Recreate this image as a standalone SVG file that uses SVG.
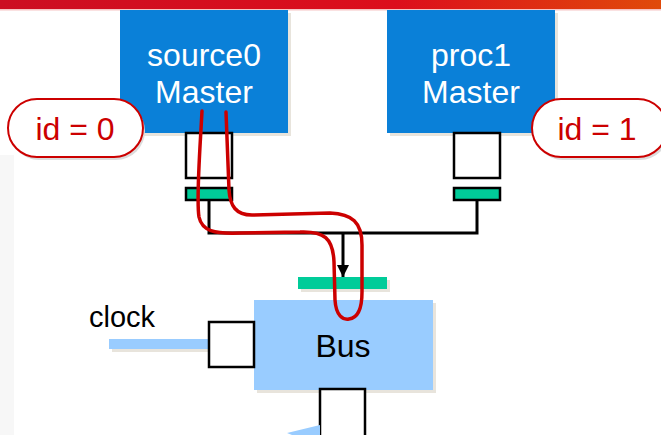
<svg xmlns="http://www.w3.org/2000/svg" width="661" height="435" viewBox="0 0 661 435">
<defs>
<linearGradient id="topbar" x1="0" y1="0" x2="1" y2="0">
<stop offset="0" stop-color="#cc0e22"/>
<stop offset="0.6" stop-color="#dc0e1c"/>
<stop offset="1" stop-color="#e04a0a"/>
</linearGradient>
<marker id="arrow" markerWidth="12" markerHeight="12" refX="10" refY="5" orient="auto" markerUnits="userSpaceOnUse" viewBox="0 0 10 10">
<path d="M0,0 L10,5 L0,10 Z" fill="#000"/>
</marker>
<style>
.master{fill:#0a80d8}
.mtext{font-family:"Liberation Sans",Arial,sans-serif;font-size:32px;fill:#fff;text-anchor:middle}
.shadow{fill:#e8e4dc}
.port{fill:#fff;stroke:#000;stroke-width:2.5}
.green{fill:#00cc99;stroke:#000;stroke-width:2.5}
.pill{fill:#fff;stroke:#cc0000;stroke-width:2}
.pshadow{fill:#dcdcdc}
.ptext{font-family:"Liberation Sans",Arial,sans-serif;font-size:32px;fill:#cc0000;text-anchor:middle}
.wire{fill:none;stroke:#000;stroke-width:3}
.label{font-family:"Liberation Sans",Arial,sans-serif;font-size:29px;fill:#000}
</style>
</defs>
<rect x="0" y="0" width="661" height="435" fill="#fff"/>
<rect x="0" y="155" width="14" height="280" fill="#f7f7f7"/>
<rect x="0" y="0" width="661" height="9" fill="url(#topbar)"/>
<rect x="0" y="9" width="661" height="1.5" fill="#f6c4c4"/>

<g id="source0">
<rect class="shadow" x="123" y="13" width="168" height="123"/>
<rect class="master" x="120" y="10" width="168" height="123"/>
<text class="mtext" x="204" y="66">source0</text>
<text class="mtext" x="204" y="103">Master</text>
<rect class="port" x="186" y="133" width="46" height="45"/>
<rect class="green" x="186" y="188" width="46" height="12"/>
</g>

<g id="proc1">
<rect class="shadow" x="390" y="13" width="168" height="123"/>
<rect class="master" x="387" y="10" width="168" height="123"/>
<text class="mtext" x="471" y="66">proc1</text>
<text class="mtext" x="471" y="103">Master</text>
<rect class="port" x="454" y="133" width="46" height="45"/>
<rect class="green" x="454" y="188" width="46" height="12"/>
</g>

<g id="id0">
<rect class="pshadow" x="10" y="102" width="135" height="58" rx="29"/>
<rect class="pill" x="8" y="99" width="135" height="58" rx="29"/>
<text class="ptext" x="75" y="140">id = 0</text>
</g>

<g id="id1">
<rect class="pshadow" x="534" y="102" width="135" height="58" rx="29"/>
<rect class="pill" x="532" y="99" width="135" height="58" rx="29"/>
<text class="ptext" x="597" y="140">id = 1</text>
</g>

<g id="bus">
<rect class="shadow" x="301" y="280" width="89" height="12"/>
<rect x="298" y="277" width="89" height="12" fill="#00cc99"/>
<rect class="shadow" x="257" y="303" width="179" height="90"/>
<rect x="254" y="300" width="179" height="90" fill="#99ccff"/>
<text class="mtext" x="343" y="357" style="fill:#000">Bus</text>
<rect class="port" x="320" y="389" width="45" height="50"/>
<polygon points="287,433 320,425 320,435 292,435" fill="#99ccff"/>
</g>

<g id="clock">
<rect x="112" y="342" width="98" height="10" fill="#e8e4dc"/>
<rect x="109" y="339" width="100" height="10" fill="#99ccff"/>
<rect class="port" x="209" y="322" width="45" height="45"/>
<text class="label" x="89" y="327">clock</text>
</g>

<g id="connectors">
<polyline class="wire" points="209,200 209,233 477,233 477,200"/>
<line class="wire" x1="343" y1="233" x2="343" y2="277" marker-end="url(#arrow)"/>
<path d="M202,111 C200,150 196,200 199,217 C202,231 214,234 240,233 L300,232 C324,231 333,238 334,262 L335,300 C336,316 343,320 349,319 C358,318 362,308 362,292 L362,245 C362,222 352,214 330,213 L252,215 C236,215 230,206 229,190 L226,112" fill="none" stroke="#cc0000" stroke-width="3.5" stroke-linecap="round"/>
</g>
</svg>
